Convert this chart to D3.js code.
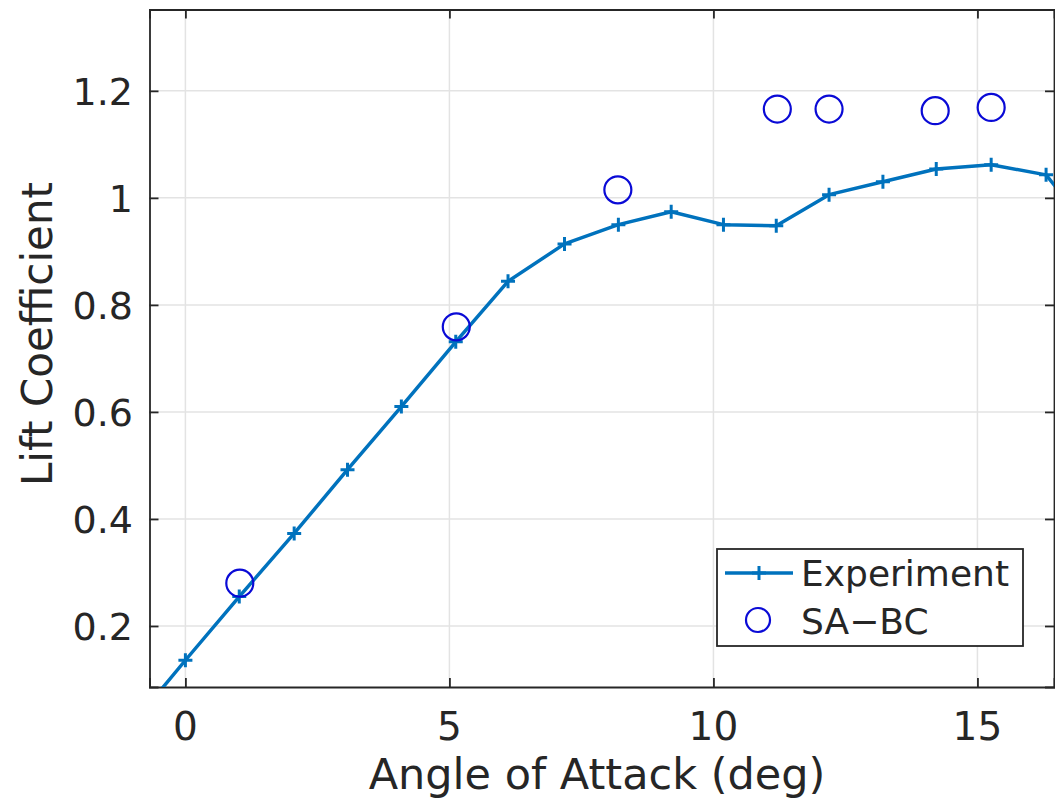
<html>
<head>
<meta charset="utf-8">
<script src="https://cdn.jsdelivr.net/npm/d3@7"></script>
<style>
  body { margin: 0; background: #fff; }
  text { font-family: "DejaVu Sans", sans-serif; fill: #262626; }
</style>
</head>
<body>
<script>

// experiment (line with + markers)
const expAngle = [-1.0, 0.0, 1.02, 2.06, 3.07, 4.09, 5.12, 6.11, 7.18, 8.2, 9.2, 10.19, 11.19, 12.19, 13.21, 14.22, 15.26, 16.3, 17.3];
const expCl    = [0.017, 0.136, 0.255, 0.373, 0.492, 0.610, 0.731, 0.844, 0.914, 0.950, 0.974, 0.950, 0.948, 1.006, 1.030, 1.054, 1.062, 1.043, 0.92];

// SA-BC (open circles)
const saAngle = [1.03, 5.13, 8.19, 11.21, 12.19, 14.2, 15.26];
const saCl    = [0.280, 0.759, 1.015, 1.166, 1.166, 1.163, 1.169];

const xTicks = [0, 5, 10, 15];
const yTicks = [0.2, 0.4, 0.6, 0.8, 1, 1.2];
const seriesNames = ["Experiment", "SA\u2212BC"];

const W = 1055, H = 809;
const axLeft = 149.5, axRight = 1054, axTop = 9.5, axBottom = 687;

const x = d3.scaleLinear().domain([-0.68, 16.45]).range([axLeft, axRight]);
const y = d3.scaleLinear().domain([0.086, 1.352]).range([axBottom, axTop]);

const svg = d3.select('body').append('svg')
  .attr('width', W)
  .attr('height', H);

svg.append('clipPath').attr('id', 'clip')
  .append('rect')
  .attr('x', axLeft).attr('y', axTop)
  .attr('width', axRight - axLeft).attr('height', axBottom - axTop);

// grid
const grid = svg.append('g').attr('stroke', '#e3e3e3').attr('stroke-width', 1.5);
grid.selectAll('.gx').data(xTicks).enter().append('line')
  .attr('x1', d => x(d)).attr('x2', d => x(d))
  .attr('y1', axTop).attr('y2', axBottom);
grid.selectAll('.gy').data(yTicks).enter().append('line')
  .attr('x1', axLeft).attr('x2', axRight)
  .attr('y1', d => y(d)).attr('y2', d => y(d));

// axes (box, inward ticks)
const axB = svg.append('g').attr('transform', `translate(0,${axBottom})`)
  .call(d3.axisTop(x).tickValues(xTicks).tickSize(9).tickFormat(''));
const axT = svg.append('g').attr('transform', `translate(0,${axTop})`)
  .call(d3.axisBottom(x).tickValues(xTicks).tickSize(9).tickFormat(''));
const axL = svg.append('g').attr('transform', `translate(${axLeft},0)`)
  .call(d3.axisRight(y).tickValues(yTicks).tickSize(9).tickFormat(''));
const axR = svg.append('g').attr('transform', `translate(${axRight},0)`)
  .call(d3.axisLeft(y).tickValues(yTicks).tickSize(9).tickFormat(''));
[axB, axT, axL, axR].forEach(a => {
  a.selectAll('path').attr('stroke', '#262626').attr('stroke-width', 1.8);
  a.selectAll('line').attr('stroke', '#262626').attr('stroke-width', 1.8);
});

// tick labels
svg.selectAll('.xl').data(xTicks).enter().append('text')
  .attr('x', d => x(d)).attr('y', 740)
  .attr('text-anchor', 'middle')
  .attr('font-size', 39)
  .text(d => d);
svg.selectAll('.yl').data(yTicks).enter().append('text')
  .attr('x', 133).attr('y', d => y(d) + 14)
  .attr('text-anchor', 'end')
  .attr('font-size', 38)
  .text(d => d);

// axis titles
svg.append('text')
  .attr('x', 597).attr('y', 789)
  .attr('text-anchor', 'middle')
  .attr('font-size', 43)
  .text('Angle of Attack (deg)');
svg.append('text')
  .attr('transform', 'translate(52,334) rotate(-90)')
  .attr('text-anchor', 'middle')
  .attr('font-size', 42)
  .text('Lift Coefficient');

// data
const plot = svg.append('g').attr('clip-path', 'url(#clip)');
const lineCol = '#0072BD', circCol = '#0a0ad6';
const expData = expAngle.map((a, i) => [a, expCl[i]]);
const saData = saAngle.map((a, i) => [a, saCl[i]]);

plot.append('path')
  .datum(expData)
  .attr('fill', 'none')
  .attr('stroke', lineCol)
  .attr('stroke-width', 3.5)
  .attr('stroke-linejoin', 'round')
  .attr('d', d3.line().x(d => x(d[0])).y(d => y(d[1])));

const plus = 7;
plot.selectAll('.pm').data(expData).enter().append('path')
  .attr('fill', 'none')
  .attr('stroke', lineCol)
  .attr('stroke-width', 3)
  .attr('d', d => `M${x(d[0]) - plus},${y(d[1])}h${2 * plus}M${x(d[0])},${y(d[1]) - plus}v${2 * plus}`);

plot.selectAll('.sa').data(saData).enter().append('circle')
  .attr('cx', d => x(d[0])).attr('cy', d => y(d[1]))
  .attr('r', 13.5)
  .attr('fill', 'none')
  .attr('stroke', circCol)
  .attr('stroke-width', 2.2);

// legend
const lg = svg.append('g');
lg.append('rect')
  .attr('x', 717).attr('y', 549).attr('width', 306).attr('height', 97)
  .attr('fill', '#fff').attr('stroke', '#262626').attr('stroke-width', 1.8);
lg.append('line')
  .attr('x1', 725).attr('x2', 793).attr('y1', 573).attr('y2', 573)
  .attr('stroke', lineCol).attr('stroke-width', 3.5);
lg.append('path')
  .attr('stroke', lineCol).attr('stroke-width', 3).attr('fill', 'none')
  .attr('d', `M${759 - plus},573h${2 * plus}M759,${573 - plus}v${2 * plus}`);
lg.append('circle')
  .attr('cx', 758).attr('cy', 620).attr('r', 12)
  .attr('fill', 'none').attr('stroke', circCol).attr('stroke-width', 2.2);
lg.selectAll('.lt').data(seriesNames).enter().append('text')
  .attr('x', 801).attr('y', (d, i) => 586 + i * 48)
  .attr('font-size', 36)
  .text(d => d);

</script>
</body>
</html>
